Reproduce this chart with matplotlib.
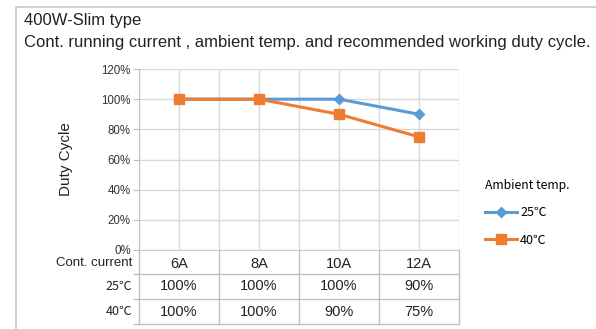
import matplotlib
matplotlib.use('Agg')
import matplotlib.pyplot as plt
from matplotlib.lines import Line2D

# Datos del gráfico
corrientes = ['6A', '8A', '10A', '12A']
ciclo_25 = [100, 100, 100, 90]
ciclo_40 = [100, 100, 90, 75]
etiquetas_y = ['0%', '20%', '40%', '60%', '80%', '100%', '120%']

W, H = 596, 329
fig = plt.figure(figsize=(W / 100, H / 100), dpi=100)

def fx(px):
    return px / W

def fy(py):
    return 1 - py / H

cjk = ['Noto Sans CJK SC', 'DejaVu Sans']
arial = ['Liberation Sans', 'DejaVu Sans']
gris = '#BFBFBF'

# Marco exterior (solo se ven izquierda y arriba)
fig.add_artist(Line2D([fx(16), fx(16), fx(600)], [fy(335), fy(7), fy(7)],
                      transform=fig.transFigure, color='#C8C8C8', lw=1.2))

# Títulos
fig.text(fx(24), fy(21), '400W-Slim type', fontsize=12, family=arial,
         va='center', color='#222222')
fig.text(fx(24), fy(42),
         'Cont. running current , ambient temp. and recommended working duty cycle.',
         fontsize=12, family=arial, va='center', color='#222222')

# Ejes
x0, x1, y0, y1 = 139, 459, 69, 250
ax = fig.add_axes([fx(x0), fy(y1), (x1 - x0) / W, (y1 - y0) / H])
x = list(range(len(corrientes)))
ax.plot(x, ciclo_25, color='#5B9BD5', lw=2.2, marker='D', markersize=5,
        label='25℃', zorder=3)
ax.plot(x, ciclo_40, color='#ED7D31', lw=2.2, marker='s', markersize=7.5,
        label='40℃', zorder=3)

ax.set_xlim(-0.5, len(corrientes) - 0.5)
ax.set_ylim(0, 120)
ax.set_yticks(range(0, 121, 20))
ax.set_yticklabels(etiquetas_y, family=arial, fontsize=8.3, color='#333333')
ax.set_xticks([i + 0.5 for i in range(-1, len(corrientes))], minor=False)
ax.set_xticks(x, minor=True)
ax.tick_params(axis='x', which='both', length=0, labelbottom=False)
ax.tick_params(axis='y', length=4, color=gris, pad=2)
ax.grid(True, which='both', color='#D9D9D9', lw=1)
ax.set_axisbelow(True)
for lado in ['top', 'right']:
    ax.spines[lado].set_visible(False)
ax.spines['left'].set_color(gris)
ax.spines['bottom'].set_color('#D0D0D0')

ax.set_ylabel('Duty Cycle', family=arial, fontsize=11, color='#222222', labelpad=20)

# Tabla de datos bajo el gráfico
filas = [(263.5, 'Cont. current', corrientes, 9.5, arial),
         (286.5, '25℃', [f'{v}%' for v in ciclo_25], 9, cjk),
         (311.5, '40℃', [f'{v}%' for v in ciclo_40], 9, cjk)]
trans = ax.get_xaxis_transform()
for py, nombre, valores, fs, fam in filas:
    fig.text(fx(132), fy(py), nombre, family=fam, fontsize=fs, ha='right',
             va='center', color='#222222')
    yy = (y1 - py) / (y1 - y0)
    for i, v in enumerate(valores):
        ax.text(i, yy, v, transform=trans, family=arial, fontsize=10.5,
                ha='center', va='center', color='#222222')

for py in [274, 299, 324]:
    fig.add_artist(Line2D([fx(134), fx(x1)], [fy(py), fy(py)],
                          transform=fig.transFigure, color=gris, lw=1))
for i in range(len(corrientes) + 1):
    px = x0 + i * (x1 - x0) / len(corrientes)
    fig.add_artist(Line2D([fx(px), fx(px)], [fy(y1), fy(324)],
                          transform=fig.transFigure, color=gris, lw=1))

# Leyenda
leg = fig.legend(loc='upper left', bbox_to_anchor=(fx(474), fy(168)),
                 title='Ambient temp.', frameon=False, prop={'family': cjk, 'size': 9},
                 handlelength=2.5, handletextpad=0.3, labelspacing=1.15)
leg.get_title().set_family(cjk)
leg.get_title().set_fontsize(8.8)
leg._legend_box.align = 'left'
leg._legend_box.sep = 10

plt.savefig('out.png', dpi=100)
plt.close()
